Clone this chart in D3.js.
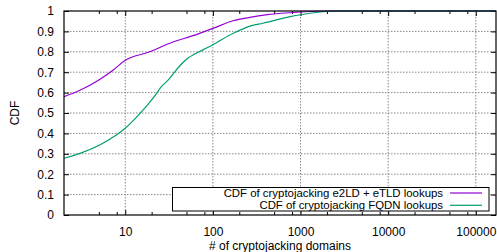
<!DOCTYPE html>
<html><head><meta charset="utf-8">
<script src="https://cdn.jsdelivr.net/npm/d3@7"></script>
<style>body{margin:0;background:#fff}svg{display:block}text{font-family:"Liberation Sans",Arial,Helvetica,sans-serif;}</style>
</head><body>
<svg id="c" width="497" height="252"></svg>
<script>
// Data
const e2ldX = [2, 3, 5, 7.3, 10, 19, 35, 59, 100, 170, 265, 420, 1000, 2000, 170000];
const e2ldY = [0.58, 0.61, 0.662, 0.711, 0.758, 0.80, 0.848, 0.879, 0.915, 0.952, 0.969, 0.982, 0.995, 1.0, 1.0];
const fqdnX = [2, 3.04, 5.1, 7.9, 10, 16, 18.3, 22.8, 24.9, 31, 36.9, 45, 52, 62, 71, 100, 171, 265, 373, 760, 1280, 2800, 170000];
const fqdnY = [0.278, 0.302, 0.343, 0.392, 0.425, 0.515, 0.544, 0.596, 0.621, 0.662, 0.703, 0.745, 0.77, 0.789, 0.802, 0.835, 0.891, 0.926, 0.94, 0.972, 0.989, 1.0, 1.0];
const xTicks = [10, 100, 1000, 10000, 100000];
const xTickLabels = ["10", "100", "1000", "10000", "100000"];
const yTicks = [0, 0.1, 0.2, 0.3, 0.4, 0.5, 0.6, 0.7, 0.8, 0.9, 1];
const yTickLabels = ["0", "0.1", "0.2", "0.3", "0.4", "0.5", "0.6", "0.7", "0.8", "0.9", "1"];
const seriesNames = ["CDF of cryptojacking e2LD + eTLD lookups", "CDF of cryptojacking FQDN lookups"];
const seriesColors = ["#9400d3", "#009e73"];

const FS = 12;
const L = 64, R = 496, T = 11, B = 215;
const svg = d3.select("#c");
const x = d3.scaleLog().domain([2, 170000]).range([L, R]);
const y = d3.scaleLinear().domain([0, 1]).range([B, T]);

const minor = [];
for (let d = 1; d <= 100000; d *= 10) for (const m of [2, 5, 8]) { const v = d * m; if (v > 2 && v < 170000) minor.push(v); }

// grid
const g = svg.append("g");
xTicks.forEach(v => g.append("line").attr("x1", x(v)).attr("x2", x(v)).attr("y1", T).attr("y2", B)
  .attr("stroke", "#888").attr("stroke-width", 1).attr("stroke-dasharray", "1.5,1.5"));
yTicks.slice(1, -1).forEach(v => g.append("line").attr("x1", L).attr("x2", R).attr("y1", y(v)).attr("y2", y(v))
  .attr("stroke", "#888").attr("stroke-width", 1).attr("stroke-dasharray", "1.5,1.5"));

// axes via d3
const xb = svg.append("g").attr("transform", `translate(0,${B})`)
  .call(d3.axisBottom(x).tickValues(xTicks).tickFormat((d, i) => xTickLabels[i]).tickSizeInner(-5).tickSizeOuter(0).tickPadding(12));
const xt = svg.append("g").attr("transform", `translate(0,${T})`)
  .call(d3.axisTop(x).tickValues(xTicks).tickFormat("").tickSizeInner(-5).tickSizeOuter(0));
const xbm = svg.append("g").attr("transform", `translate(0,${B})`)
  .call(d3.axisBottom(x).tickValues(minor).tickFormat("").tickSizeInner(-3).tickSizeOuter(0));
const xtm = svg.append("g").attr("transform", `translate(0,${T})`)
  .call(d3.axisTop(x).tickValues(minor).tickFormat("").tickSizeInner(-3).tickSizeOuter(0));
const yl = svg.append("g").attr("transform", `translate(${L},0)`)
  .call(d3.axisLeft(y).tickValues(yTicks).tickFormat((d, i) => yTickLabels[i]).tickSizeInner(-5).tickSizeOuter(0).tickPadding(10));
const yr = svg.append("g").attr("transform", `translate(${R},0)`)
  .call(d3.axisRight(y).tickValues(yTicks).tickFormat("").tickSizeInner(-5).tickSizeOuter(0));
[xb, xt, xbm, xtm, yl, yr].forEach(a => { a.select(".domain").remove(); a.selectAll("line").attr("stroke", "#000"); });
[xb, yl].forEach(a => a.selectAll("text").attr("font-size", FS).attr("fill", "#000")
  .attr("font-family", '"Liberation Sans",Arial,sans-serif'));
xb.selectAll("text").attr("dy", "0.71em");

// curves
const line = d3.line().x(d => x(d[0])).y(d => y(d[1])).curve(d3.curveMonotoneX);
const s1 = e2ldX.map((v, i) => [v, e2ldY[i]]);
const s2 = fqdnX.map((v, i) => [v, fqdnY[i]]);
svg.append("clipPath").attr("id", "cp").append("rect").attr("x", L).attr("y", T - 1).attr("width", R - L).attr("height", B - T + 1);
svg.append("path").datum(s1).attr("d", line).attr("fill", "none").attr("stroke", seriesColors[0]).attr("stroke-width", 1.2).attr("clip-path", "url(#cp)");
svg.append("path").datum(s2).attr("d", line).attr("fill", "none").attr("stroke", seriesColors[1]).attr("stroke-width", 1.2).attr("clip-path", "url(#cp)");

// border
svg.append("rect").attr("x", L).attr("y", T).attr("width", R - L).attr("height", B - T)
  .attr("fill", "none").attr("stroke", "#000").attr("stroke-width", 1.2);

// legend
svg.append("rect").attr("x", 172.5).attr("y", 187.5).attr("width", 316.5).attr("height", 23.5)
  .attr("fill", "#fff").attr("stroke", "#000").attr("stroke-width", 1);
seriesNames.forEach((n, i) => {
  const cy = 193 + i * 12.3;
  svg.append("text").attr("x", 443).attr("y", cy).attr("dy", "0.34em").attr("text-anchor", "end")
    .attr("font-size", 11.4).attr("fill", "#000").text(n);
  svg.append("line").attr("x1", 450).attr("x2", 482).attr("y1", cy).attr("y2", cy)
    .attr("stroke", seriesColors[i]).attr("stroke-width", 1.2);
});

// axis titles
svg.append("text").attr("x", 280).attr("y", 250).attr("text-anchor", "middle").attr("font-size", FS).text("# of cryptojacking domains");
svg.append("text").attr("transform", "translate(19,113) rotate(-90)").attr("text-anchor", "middle").attr("font-size", FS).text("CDF");
</script>
</body></html>
